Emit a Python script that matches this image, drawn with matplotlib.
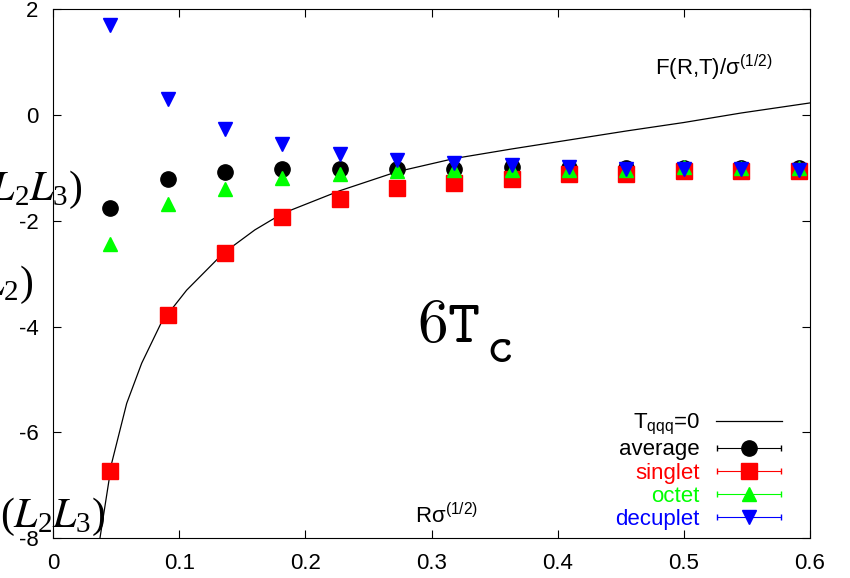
import matplotlib
matplotlib.use('Agg')
import matplotlib.pyplot as plt
from matplotlib.container import ErrorbarContainer
from matplotlib.legend_handler import HandlerErrorbar
import numpy as np

plt.rcParams['font.family'] = ['Liberation Sans', 'DejaVu Sans']
plt.rcParams['mathtext.default'] = 'regular'
plt.rcParams['axes.unicode_minus'] = False

# distancias R*sqrt(sigma)
R = [0.0455, 0.0909, 0.1364, 0.1818, 0.2273, 0.2727, 0.3182,
     0.3636, 0.4091, 0.4545, 0.5000, 0.5455, 0.5909]

average = [-1.75, -1.21, -1.08, -1.01, -1.01, -1.01, -1.01,
           -0.99, -1.00, -1.00, -1.00, -1.00, -1.00]
singlet = [-6.73, -3.77, -2.60, -1.92, -1.59, -1.38, -1.29,
           -1.21, -1.12, -1.12, -1.05, -1.05, -1.06]
octet = [-2.43, -1.68, -1.39, -1.18, -1.12, -1.06, -1.04,
         -1.03, -1.03, -1.03, -0.99, -1.00, -1.00]
decuplet = [1.70, 0.30, -0.27, -0.55, -0.74, -0.84, -0.90,
            -0.95, -0.98, -1.02, -1.02, -1.02, -1.04]

# curva T_qqq = 0
R_T0 = [0.0372, 0.0465, 0.0584, 0.0703, 0.0861, 0.1059, 0.135, 0.160,
        0.1818, 0.2273, 0.2727, 0.3182, 0.3636, 0.4091, 0.4545, 0.5,
        0.5455, 0.6]
F_T0 = [-8.0, -6.58, -5.45, -4.69, -3.91, -3.31, -2.61, -2.17,
        -1.86, -1.43, -1.07, -0.82, -0.64, -0.47, -0.30, -0.14,
        0.04, 0.23]

W, H = 850, 578
fig = plt.figure(figsize=(W / 100, H / 100), dpi=100)
ax = fig.add_axes([53 / W, 1 - 538.3 / H, (810 - 53) / W, (538.3 - 9.3) / H])

def fx(px):
    return px / W

def fy(py):
    return 1 - py / H

linha, = ax.plot(R_T0, F_T0, color='black', lw=0.9, zorder=1)

zero = np.zeros(len(R))
series = [
    ('average', average, 'black', 'o', 11),
    ('singlet', singlet, '#ff0000', 's', 11),
    ('octet', octet, '#00ff00', '^', 10.5),
    ('decuplet', decuplet, '#0000ff', 'v', 10.5),
]
handles = [linha]
labels = ['T$_{qqq}$=0']
cores = ['black']
for nome, vals, cor, mk, ms in series:
    eb = ax.errorbar(R, vals, xerr=zero, fmt=mk, color=cor, ms=ms,
                     mec=cor, elinewidth=0.8, capsize=2.5, zorder=2)
    handles.append(eb)
    labels.append(nome)
    cores.append(cor)

ax.set_xlim(0, 0.6)
ax.set_ylim(-8, 2)
ax.set_xticks([0, 0.1, 0.2, 0.3, 0.4, 0.5, 0.6])
ax.set_xticklabels(['0', '0.1', '0.2', '0.3', '0.4', '0.5', '0.6'])
ax.set_yticks([-8, -6, -4, -2, 0, 2])
ax.set_yticklabels(['-8', '-6', '-4', '-2', '0', '2'])
ax.tick_params(direction='in', length=6, width=0.8, top=True, right=True,
               labelsize=16, pad=10.5)
for s in ax.spines.values():
    s.set_linewidth(0.8)

leg = ax.legend(handles, labels, loc='lower right',
                bbox_to_anchor=(fx(782), fy(530)), bbox_transform=fig.transFigure,
                frameon=False, markerfirst=False, fontsize=16,
                handlelength=2.97, handletextpad=0.72, labelspacing=0.1,
                borderpad=0, borderaxespad=0,
                handler_map={ErrorbarContainer: HandlerErrorbar(xerr_size=1.46)})
for t, c in zip(leg.get_texts(), cores):
    t.set_color(c)

fig.text(fx(655), fy(75), 'F(R,T)/σ$^{(1/2)}$', fontsize=16, va='baseline')
fig.text(fx(415), fy(523), 'Rσ$^{(1/2)}$', fontsize=16, va='baseline')

# "6T_c" em fonte de maquina de escrever (cmtt)
fig.text(fx(417), fy(341.7), r'$\mathtt{6T}$', math_fontfamily='cm',
         fontsize=44, va='baseline')
fig.text(fx(486), fy(361.7), r'$\mathtt{c}$', math_fontfamily='cm',
         fontsize=37, va='baseline')

# restos de rotulos em LaTeX cortados na margem esquerda
for txt, xr, yc in [(r'$(\mathit{L}_2\mathit{L}_3)$', 82, 190),
                    (r'$(\mathit{L}_1\mathit{L}_2)$', 33, 285),
                    (r'$(\mathit{L}_2\mathit{L}_3)$', 105, 517)]:
    fig.text(fx(xr), fy(yc), txt, fontsize=30, ha='right', va='center',
             family='Liberation Serif', math_fontfamily='stix')

fig.savefig('out.png', dpi=100)
